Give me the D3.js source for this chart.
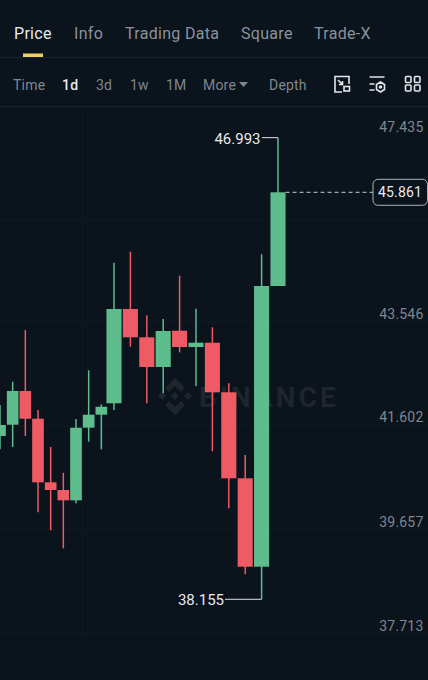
<!DOCTYPE html>
<html>
<head>
<meta charset="utf-8">
<style>
    html, body { margin: 0; padding: 0; background: #0b131c; }
    svg { display: block; font-family: Roboto, Inter, sans-serif; }
</style>
</head>
<body>
<div class="canvas"></div>
<script src="https://cdnjs.cloudflare.com/ajax/libs/d3/7.8.5/d3.min.js"></script>
<script>
// chart data, oldest candle first
const opens  = [41.415, 41.626, 42.256, 41.738, 40.549, 40.405, 40.212, 41.570, 41.813, 42.026, 43.789, 43.260, 42.705, 43.383, 43.078, 43.159, 42.232, 40.624, 38.971, 44.219];
const closes = [41.620, 42.256, 41.738, 40.549, 40.405, 40.212, 41.570, 41.813, 41.962, 43.789, 43.260, 42.705, 43.378, 43.078, 43.159, 42.232, 40.624, 38.971, 44.219, 45.971];
const highs  = [41.994, 42.430, 43.396, 41.901, 41.209, 40.728, 41.732, 42.643, 42.007, 44.655, 44.860, 43.671, 43.602, 44.411, 43.794, 43.447, 42.400, 41.059, 44.811, 46.993];
const lows   = [41.166, 41.209, 41.415, 39.988, 39.652, 39.315, 40.156, 41.308, 41.166, 41.901, 43.084, 42.026, 42.213, 42.979, 42.349, 41.129, 40.063, 38.829, 38.362, 44.219];

// 45.440 has a gridline but no label, 47.435 has a label but no gridline
const gridPrices = [37.713, 39.657, 41.602, 43.546, 45.440];
const labelPrices = [37.713, 39.657, 41.602, 43.546, 47.435];
const tickLabels = ['37.713', '39.657', '41.602', '43.546', '47.435'];

const highLabel = '46.993';
const lowLabel = '38.155';
const lastLabel = '45.861';

const tabs = ['Price', 'Info', 'Trading Data', 'Square', 'Trade-X'];
const tabX = [14, 74, 125, 241, 314];
const intervals = ['Time', '1d', '3d', '1w', '1M', 'More', 'Depth'];
const intervalX = [13, 62, 96, 130, 166, 203, 269];

const width = 428;
const height = 680;
const green = '#5ebd8c';
const red = '#ee5b65';
const grid = '#131b24';

const svg = d3.select('.canvas')
    .append('svg')
    .attr('width', width)
    .attr('height', height);

svg.append('rect')
    .attr('width', width)
    .attr('height', height)
    .attr('fill', '#0b131c');

// scales. candles on the left of the picture are squeezed, so x has two slopes
const x = d3.scaleLinear().domain([0, 9, 19]).range([0, 114, 278]);
const y = d3.scaleLinear().domain([37.713, 47.435]).range([634, 114]);

////////////// header //////////////
svg.selectAll('.tab')
    .data(tabs)
    .enter()
    .append('text')
        .attr('class', 'tab')
        .attr('x', (d, i) => tabX[i])
        .attr('y', 39)
        .attr('font-size', 16)
        .attr('letter-spacing', 0.3)
        .attr('fill', (d, i) => i === 0 ? '#e8eaec' : '#8a929b')
        .text(d => d);

svg.append('rect')
    .attr('x', 23)
    .attr('y', 53.5)
    .attr('width', 20)
    .attr('height', 4)
    .attr('fill', '#f0cf5e');

svg.selectAll('.divider')
    .data([57.5, 106.5])
    .enter()
    .append('line')
        .attr('class', 'divider')
        .attr('x1', 0)
        .attr('x2', width)
        .attr('y1', d => d)
        .attr('y2', d => d)
        .attr('stroke', '#1a222b');

svg.selectAll('.interval')
    .data(intervals)
    .enter()
    .append('text')
        .attr('class', 'interval')
        .attr('x', (d, i) => intervalX[i])
        .attr('y', 90)
        .attr('font-size', 14)
        .attr('letter-spacing', 0.2)
        .attr('font-weight', d => d === '1d' ? 500 : 400)
        .attr('fill', d => d === '1d' ? '#e8eaec' : '#7f8790')
        .text(d => d);

// little triangle after More
svg.append('path')
    .attr('d', 'M239 82h9l-4.500 5z')
    .attr('fill', '#7f8790');

// toolbar icons
const icons = svg.append('g')
    .attr('fill', 'none')
    .attr('stroke', '#e4e6e8')
    .attr('stroke-width', 1.600);

icons.append('path').attr('d', 'M342 92h-7v-15.500h14v7.500');
icons.append('path').attr('d', 'M338 80l4.500 4.500m0-3.500v3.500h-3.500');
icons.append('rect').attr('x', 344).attr('y', 86.500).attr('width', 5.500).attr('height', 4.500);
icons.append('path').attr('d', 'M369.500 77h15M369.500 84h5M369.500 90h5');
icons.append('path').attr('d', 'M380.500 82l4 2.500v5l-4 2.500-4-2.500v-5z');
icons.append('circle').attr('cx', 380.500).attr('cy', 87).attr('r', 1);
[[405.500, 76.500], [414.500, 76.500], [405.500, 85], [414.500, 85]].forEach(p => {
    icons.append('rect')
        .attr('x', p[0])
        .attr('y', p[1])
        .attr('width', 5.500)
        .attr('height', 6)
        .attr('rx', 1);
});

////////////// plot background //////////////
const gridGroup = svg.append('g');

gridGroup.selectAll('line')
    .data(gridPrices)
    .enter()
    .append('line')
        .attr('x1', 0)
        .attr('x2', width)
        .attr('y1', d => y(d))
        .attr('y2', d => y(d))
        .attr('stroke', grid);

// only one vertical gridline shows, between candles 6 and 7
gridGroup.append('line')
    .attr('x1', x(6.5))
    .attr('x2', x(6.5))
    .attr('y1', 107)
    .attr('y2', y(37.713))
    .attr('stroke', grid);

// watermark sits under the candles
const mark = svg.append('g')
    .attr('fill', '#1e252d');

mark.append('path')
    .attr('d', 'M175 378l10 10-4 4-6-6-6 6-4-4zM158 396l4-4 4 4-4 4zM184 396l4-4 4 4-4 4zM175 392l4 4-4 4-4-4zM175 415l-10-10 4-4 6 6 6-6 4 4z');

mark.append('text')
    .attr('x', 199)
    .attr('y', 407)
    .attr('font-size', 28)
    .attr('font-weight', 700)
    .attr('letter-spacing', 3)
    .text('BINANCE');

////////////// candles //////////////
const candles = opens.map((open, i) => ({ i, open, close: closes[i], high: highs[i], low: lows[i] }));
const colour = d => d.close >= d.open ? green : red;
const bodyWidth = d => (x(d.i + 1) - x(d.i)) * 0.92;

const candle = svg.selectAll('.candle')
    .data(candles)
    .enter()
    .append('g')
        .attr('class', 'candle');

candle.append('line')
    .attr('x1', d => x(d.i))
    .attr('x2', d => x(d.i))
    .attr('y1', d => y(d.high))
    .attr('y2', d => y(d.low))
    .attr('stroke', colour)
    .attr('stroke-width', 1.500);

candle.append('rect')
    .attr('x', d => x(d.i) - bodyWidth(d) / 2)
    .attr('width', bodyWidth)
    .attr('y', d => y(Math.max(d.open, d.close)))
    .attr('height', d => y(Math.min(d.open, d.close)) - y(Math.max(d.open, d.close)))
    .attr('fill', colour);

////////////// price axis labels //////////////
// the top label hangs below its line, the others sit above
svg.selectAll('.tick-label')
    .data(labelPrices)
    .enter()
    .append('text')
        .attr('class', 'tick-label')
        .attr('x', 423.5)
        .attr('y', d => y(d) + (d === 47.435 ? 17.5 : -3.5))
        .attr('text-anchor', 'end')
        .attr('font-size', 14)
        .attr('letter-spacing', 0.2)
        .attr('fill', '#7f8790')
        .text((d, i) => tickLabels[i]);

////////////// high / low call-outs //////////////
const last = candles[candles.length - 1];
const lowest = candles[18];

svg.append('path')
    .attr('d', `M${x(last.i)} ${y(last.high)}H262`)
    .attr('fill', 'none')
    .attr('stroke', '#dfe2e4');

svg.append('text')
    .attr('x', 260.5)
    .attr('y', y(last.high) + 6)
    .attr('text-anchor', 'end')
    .attr('font-size', 15)
    .attr('fill', '#e8eaec')
    .text(highLabel);

svg.append('path')
    .attr('d', `M${x(lowest.i)} ${y(lowest.low)}H225`)
    .attr('fill', 'none')
    .attr('stroke', '#dfe2e4');

svg.append('text')
    .attr('x', 224)
    .attr('y', y(lowest.low) + 6)
    .attr('text-anchor', 'end')
    .attr('font-size', 15)
    .attr('fill', '#e8eaec')
    .text(lowLabel);

////////////// last price //////////////
svg.append('line')
    .attr('x1', x(last.i) + bodyWidth(last) / 2)
    .attr('x2', 373)
    .attr('y1', y(last.close))
    .attr('y2', y(last.close))
    .attr('stroke', '#c9cdd1')
    .attr('stroke-dasharray', '4 3');

svg.append('rect')
    .attr('x', 373)
    .attr('y', y(last.close) - 13)
    .attr('width', 54.500)
    .attr('height', 26)
    .attr('rx', 5)
    .attr('fill', '#0b131c')
    .attr('stroke', '#aeb3b8');

svg.append('text')
    .attr('x', 400)
    .attr('y', y(last.close) + 5)
    .attr('text-anchor', 'middle')
    .attr('font-size', 14)
    .attr('letter-spacing', 0.2)
    .attr('fill', '#e8eaec')
    .text(lastLabel);
</script>
</body>
</html>
